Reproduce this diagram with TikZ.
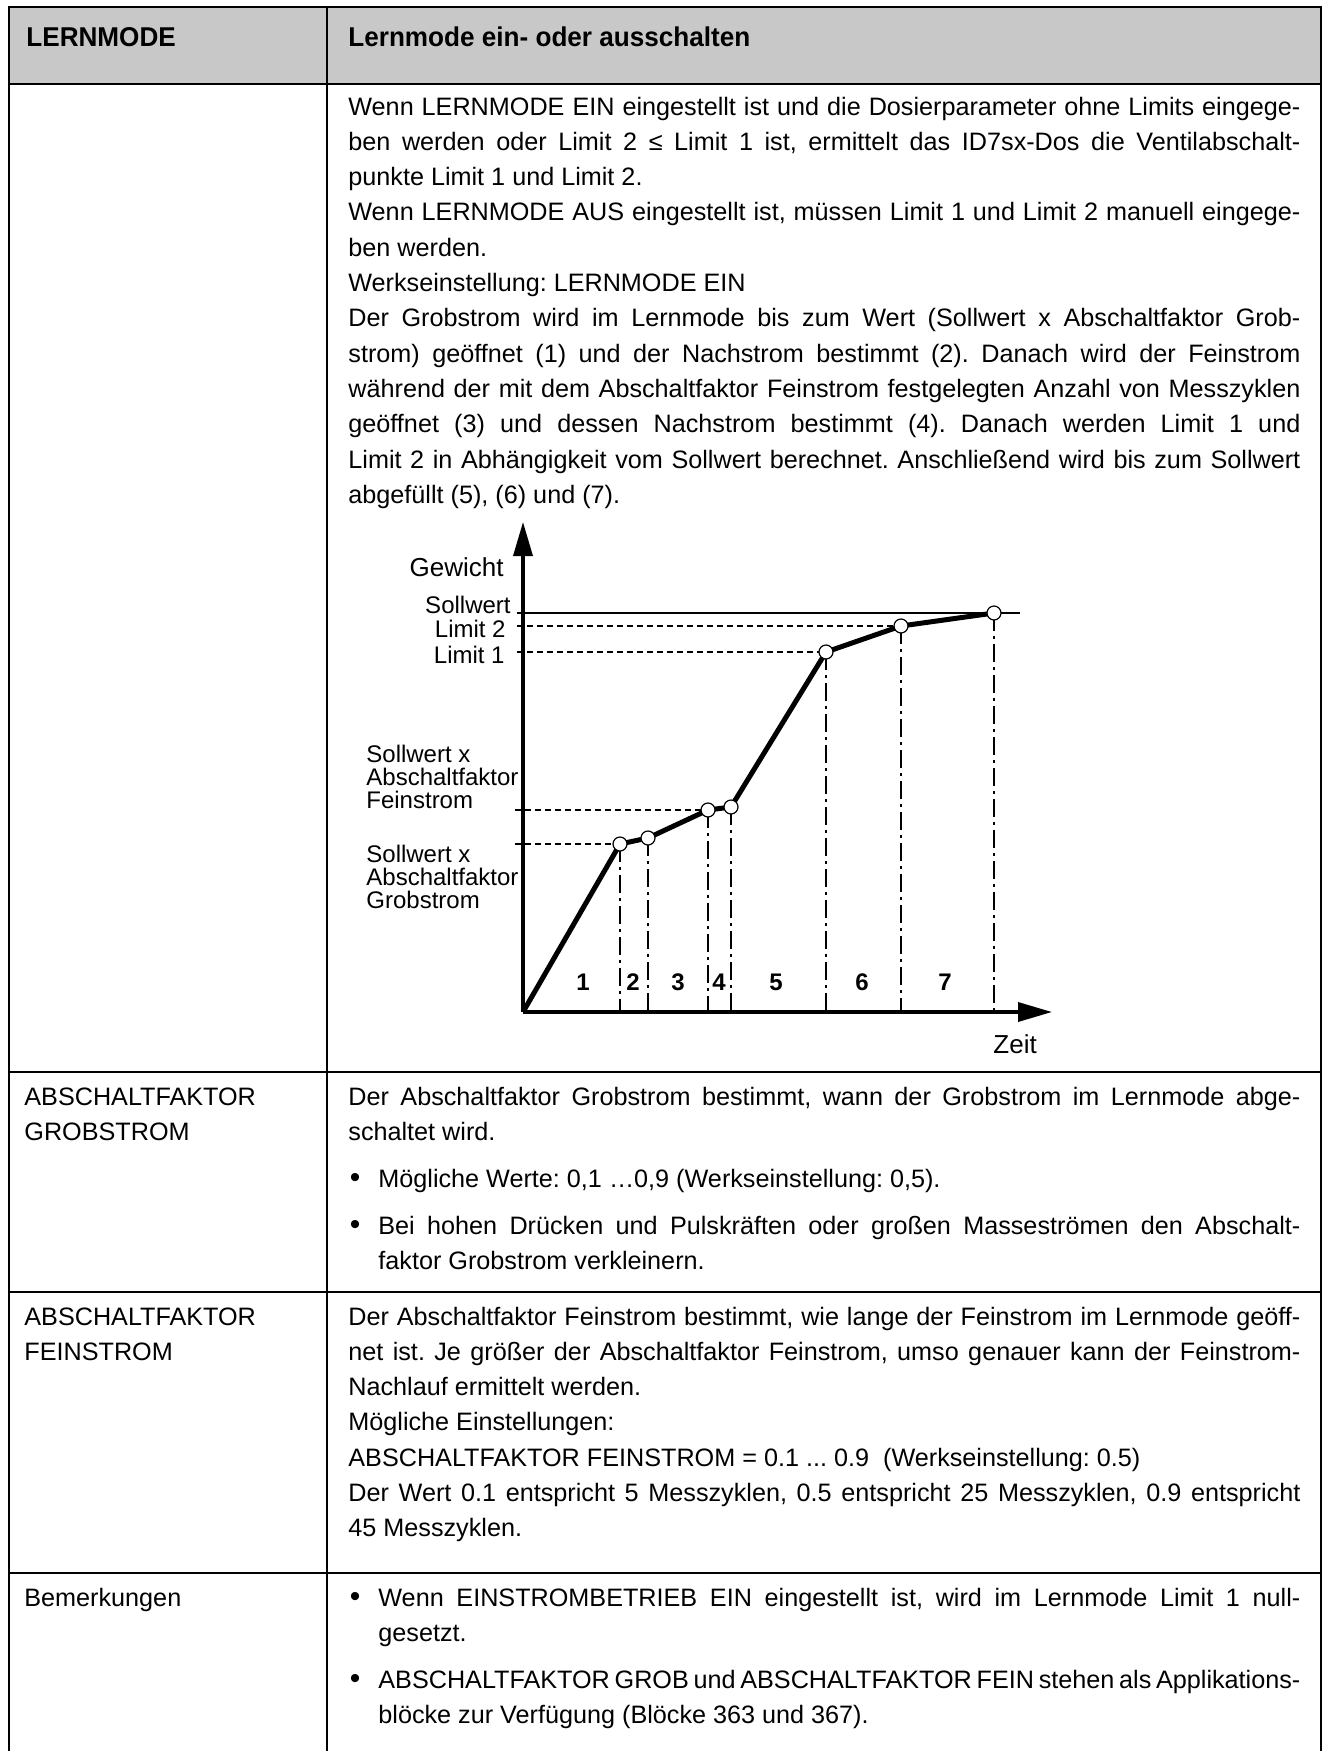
\documentclass[tikz,border=0pt]{standalone}
\usepackage{fontspec}
\setmainfont{Liberation Sans}
\newfontfamily\bodyf{Liberation Sans}
\newfontfamily\headf[FakeStretch=0.96]{Liberation Sans}
\usetikzlibrary{arrows.meta}
\definecolor{hdgray}{RGB}{200,200,200}
\newcommand\jw[1]{\makebox[476pt][s]{#1}}
\newcommand\bw[1]{\makebox[461pt][s]{#1}}
\begin{document}
\begin{tikzpicture}[x=0.5pt,y=-0.5pt,
 txt/.style={anchor=base west,inner sep=0pt,font=\bodyf\fontsize{12.6pt}{14pt}\selectfont\frenchspacing},
 hd/.style={anchor=base west,inner sep=0pt,font=\headf\bfseries\fontsize{13.6pt}{16pt}\selectfont},
 bul/.style={anchor=base,inner sep=0pt,font=\bodyf\fontsize{15pt}{15pt}\selectfont},
 tabline/.style={line width=0.85pt},
 lbl/.style={anchor=base east,inner sep=0pt,font=\fontsize{12pt}{12pt}\selectfont},
 lblw/.style={anchor=base west,inner sep=0pt,font=\fontsize{12pt}{12pt}\selectfont},
 big/.style={inner sep=0pt,font=\fontsize{13pt}{13pt}\selectfont},
 axisln/.style={line width=1.75pt,-{Triangle[length=17pt,width=9.5pt]}},
 fine/.style={line width=0.7pt},
 dsh/.style={line width=0.7pt,dash pattern=on 3pt off 2pt},
 dd/.style={line width=0.7pt,dash pattern=on 9pt off 2.5pt on 1.5pt off 2.5pt},
 curve/.style={line width=2.5pt,line join=round},
 ptc/.style={circle,draw,fill=white,line width=0.6pt,minimum size=7pt,inner sep=0pt},
 num/.style={anchor=base,inner sep=0pt,font=\bfseries\fontsize{12pt}{12pt}\selectfont}
]
\useasboundingbox (0,0) rectangle (1329,1751);
% table
\fill[hdgray] (9,7) rectangle (1321,84);
\draw[tabline] (9,1751) -- (9,7) -- (1321,7) -- (1321,1751);
\draw[tabline] (327,7) -- (327,1751);
\foreach \yy in {84,1072,1292,1573} {\draw[tabline] (9,\yy) -- (1321,\yy);}
% header
\node[hd] (h1) at (26,46) {LERNMODE};
\node[hd] (h2) at (348,46) {Lernmode ein- oder ausschalten};
% row 1 text
\node[txt] (a1) at (348,115) {\jw{Wenn LERNMODE EIN eingestellt ist und die Dosierparameter ohne Limits eingege-}};
\node[txt] (a2) at (348,150.3) {\jw{ben werden oder Limit 2 ≤ Limit 1 ist, ermittelt das ID7sx-Dos die Ventilabschalt-}};
\node[txt] (a3) at (348,185.6) {punkte Limit 1 und Limit 2.};
\node[txt] (a4) at (348,220.9) {\jw{Wenn LERNMODE AUS eingestellt ist, müssen Limit 1 und Limit 2 manuell eingege-}};
\node[txt] (a5) at (348,256.2) {ben werden.};
\node[txt] (a6) at (348,291.5) {Werkseinstellung: LERNMODE EIN};
\node[txt] (a7) at (348,326.8) {\jw{Der Grobstrom wird im Lernmode bis zum Wert (Sollwert x Abschaltfaktor Grob-}};
\node[txt] (a8) at (348,362.1) {\jw{strom) geöffnet (1) und der Nachstrom bestimmt (2). Danach wird der Feinstrom}};
\node[txt] (a9) at (348,397.4) {\jw{während der mit dem Abschaltfaktor Feinstrom festgelegten Anzahl von Messzyklen}};
\node[txt] (a10) at (348,432.7) {\jw{geöffnet (3) und dessen Nachstrom bestimmt (4). Danach werden Limit 1 und}};
\node[txt] (a11) at (348,468) {\jw{Limit 2 in Abhängigkeit vom Sollwert berechnet. Anschließend wird bis zum Sollwert}};
\node[txt] (a12) at (348,503.3) {abgefüllt (5), (6) und (7).};
% chart
\coordinate (O) at (523,1012);
\coordinate (ytip) at (523,522);
\coordinate (xtip) at (1052,1012);
\coordinate (c1) at (620,844);
\coordinate (c2) at (648,838);
\coordinate (c3) at (708,810);
\coordinate (c4) at (731,807);
\coordinate (c5) at (826,652);
\coordinate (c6) at (901,626);
\coordinate (c7) at (994,613);
\coordinate (swa) at (517,613);
\coordinate (swb) at (1020,613);
\coordinate (l2a) at (517,626);
\coordinate (l1a) at (517,652);
\coordinate (fsa) at (515,810);
\coordinate (gsa) at (515,844);
\draw[fine] (swa) -- (swb);
\draw[dsh] (l2a) -- (c6);
\draw[dsh] (l1a) -- (c5);
\draw[dsh] (fsa) -- (c3);
\draw[dsh] (gsa) -- (c1);
\foreach \c in {c1,c2,c3,c4,c5,c6,c7} {\draw[dd] (\c) -- (\c |- O);}
\draw[axisln] (O) -- (ytip);
\draw[axisln] (O) -- (xtip);
\draw[curve] (O) -- (c1) -- (c2) -- (c3) -- (c4) -- (c5) -- (c6) -- (c7);
\foreach \c/\n in {c1/p1,c2/p2,c3/p3,c4/p4,c5/p5,c6/p6,c7/p7} {\node[ptc] (\n) at (\c) {};}
\node[big,anchor=base east] (gew) at (504,576) {Gewicht};
\node[big,anchor=base west] (zeit) at (993,1053) {Zeit};
\node[lbl] (sw) at (511,613) {Sollwert};
\node[lbl] (lim2) at (506,637) {Limit 2};
\node[lbl] (lim1) at (505,663) {Limit 1};
\node[lblw] (fs1) at (366,762) {Sollwert x};
\node[lblw] (fs2) at (366,785) {Abschaltfaktor};
\node[lblw] (fs3) at (366,808) {Feinstrom};
\node[lblw] (gs1) at (366,862) {Sollwert x};
\node[lblw] (gs2) at (366,885) {Abschaltfaktor};
\node[lblw] (gs3) at (366,908) {Grobstrom};
\node[num] (n1) at (583,990) {1};
\node[num] (n2) at (633,990) {2};
\node[num] (n3) at (678,990) {3};
\node[num] (n4) at (719,990) {4};
\node[num] (n5) at (776,990) {5};
\node[num] (n6) at (862,990) {6};
\node[num] (n7) at (945,990) {7};
% row 2
\node[txt] (r2l1) at (24,1105) {ABSCHALTFAKTOR};
\node[txt] (r2l2) at (24,1140) {GROBSTROM};
\node[txt] (b1) at (348,1105) {\jw{Der Abschaltfaktor Grobstrom bestimmt, wann der Grobstrom im Lernmode abge-}};
\node[txt] (b2) at (348,1140) {schaltet wird.};
\node[bul] (b3d) at (355,1187) {•};
\node[txt] (b3) at (378,1187) {Mögliche Werte: 0,1 …0,9 (Werkseinstellung: 0,5).};
\node[bul] (b4d) at (355,1234) {•};
\node[txt] (b4) at (378,1234) {\bw{Bei hohen Drücken und Pulskräften oder großen Masseströmen den Abschalt-}};
\node[txt] (b5) at (378,1269) {faktor Grobstrom verkleinern.};
% row 3
\node[txt] (r3l1) at (24,1325) {ABSCHALTFAKTOR};
\node[txt] (r3l2) at (24,1360) {FEINSTROM};
\node[txt] (c1t) at (348,1325) {\jw{Der Abschaltfaktor Feinstrom bestimmt, wie lange der Feinstrom im Lernmode geöff-}};
\node[txt] (c2t) at (348,1360.3) {\jw{net ist. Je größer der Abschaltfaktor Feinstrom, umso genauer kann der Feinstrom-}};
\node[txt] (c3t) at (348,1395.6) {Nachlauf ermittelt werden.};
\node[txt] (c4t) at (348,1430.9) {Mögliche Einstellungen:};
\node[txt] (c5t) at (348,1466.2) {ABSCHALTFAKTOR FEINSTROM = 0.1 ... 0.9 \ (Werkseinstellung: 0.5)};
\node[txt] (c6t) at (348,1501.5) {\jw{Der Wert 0.1 entspricht 5 Messzyklen, 0.5 entspricht 25 Messzyklen, 0.9 entspricht}};
\node[txt] (c7t) at (348,1536.8) {45 Messzyklen.};
% row 4
\node[txt] (r4l1) at (24,1606) {Bemerkungen};
\node[bul] (d1d) at (355,1606) {•};
\node[txt] (d1) at (378,1606) {\bw{Wenn EINSTROMBETRIEB EIN eingestellt ist, wird im Lernmode Limit 1 null-}};
\node[txt] (d2) at (378,1641) {gesetzt.};
\node[bul] (d3d) at (355,1688) {•};
\node[txt] (d3) at (378,1688) {\bw{ABSCHALTFAKTOR GROB und ABSCHALTFAKTOR FEIN stehen als Applikations-}};
\node[txt] (d4) at (378,1723) {blöcke zur Verfügung (Blöcke 363 und 367).};
\end{tikzpicture}
\end{document}
